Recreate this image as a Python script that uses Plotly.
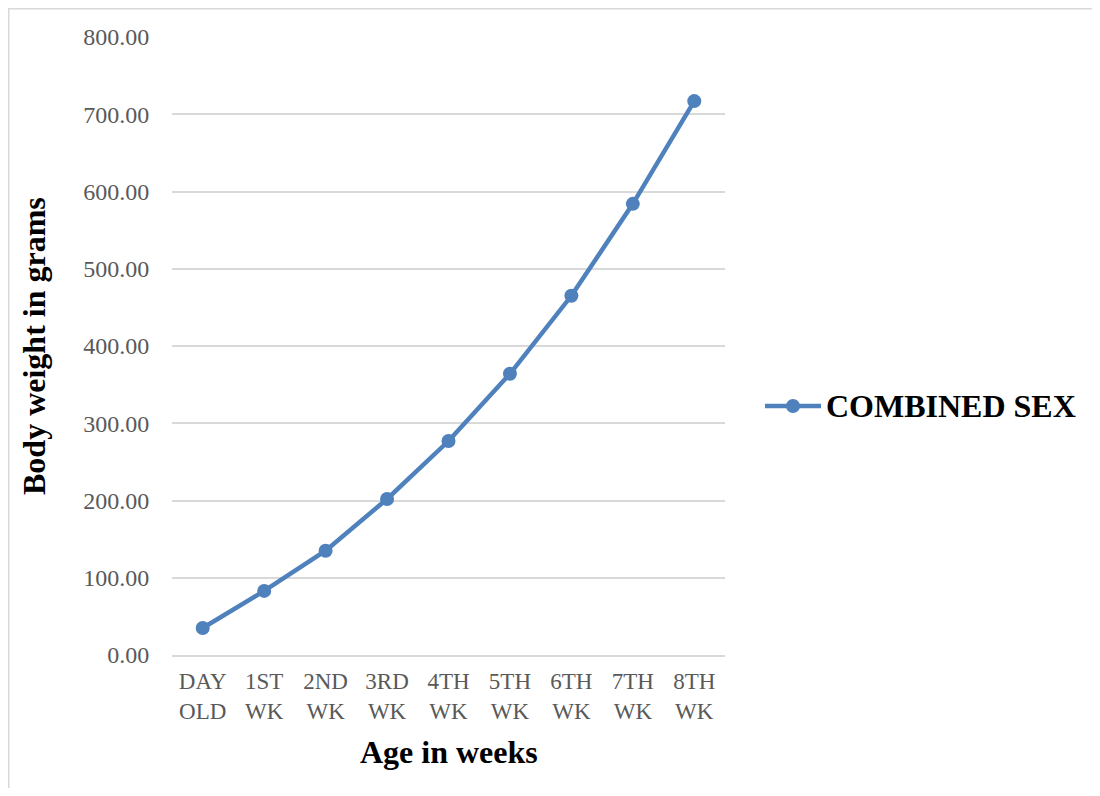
import plotly.graph_objects as go

categories = ["DAY<br>OLD", "1ST<br>WK", "2ND<br>WK", "3RD<br>WK", "4TH<br>WK",
              "5TH<br>WK", "6TH<br>WK", "7TH<br>WK", "8TH<br>WK"]
combined_sex = [35, 83, 135, 202, 277, 364, 465, 584, 717]
y_ticks = [0, 100, 200, 300, 400, 500, 600, 700, 800]
series_name = "COMBINED SEX"

# page offset of 8px (body margin) -> figure coordinates
OFF = 8
L, R, T, B = 172 - OFF, 725 - OFF, 37 - OFF, 655 - OFF
W, H = 1100 - 2 * OFF, 796 - 2 * OFF
pw, ph = R - L, B - T
COLOR = "#4f81bd"

def px(x):
    return (x - OFF - L) / pw

def py(y):
    return (B - (y - OFF)) / ph

fig = go.Figure()
fig.add_trace(go.Scatter(
    x=categories, y=combined_sex, mode="lines+markers", name=series_name,
    line=dict(color=COLOR, width=4.5),
    marker=dict(color=COLOR, size=14),
    showlegend=False,
))

serif = "Liberation Serif, Times New Roman, serif"
fig.update_layout(
    width=W, height=H,
    margin=dict(l=L, r=W - R, t=T, b=H - B),
    paper_bgcolor="white", plot_bgcolor="white",
    font=dict(family=serif, color="#595959", size=24),
    showlegend=False,
    xaxis=dict(type="category", range=[-0.5, 8.5], showgrid=False,
               showline=True, linecolor="#d9d9d9", linewidth=1.5,
               ticks="outside", ticklen=5, tickcolor="rgba(0,0,0,0)",
               tickfont=dict(family=serif, size=23, color="#595959"),
               fixedrange=True),
    yaxis=dict(range=[0, 800], tickvals=y_ticks, tickformat=".2f",
               showgrid=True, gridcolor="#d9d9d9", gridwidth=1.5,
               zeroline=False, showline=False,
               ticks="outside", ticklen=17, tickcolor="rgba(0,0,0,0)",
               tickfont=dict(family=serif, size=24, color="#595959"),
               fixedrange=True),
    annotations=[
        dict(text="<b>Age in weeks</b>", x=px(449), y=py(752), xref="paper", yref="paper",
             showarrow=False, xanchor="center", yanchor="middle",
             font=dict(family=serif, size=32, color="black")),
        dict(text="<b>Body weight in grams</b>", x=px(34), y=py(346), xref="paper", yref="paper",
             showarrow=False, xanchor="center", yanchor="middle", textangle=-90,
             font=dict(family=serif, size=32, color="black")),
        dict(text="<b>" + series_name + "</b>", x=px(824), y=py(406), xref="paper", yref="paper",
             showarrow=False, xanchor="left", yanchor="middle",
             font=dict(family=serif, size=32, color="black")),
    ],
    shapes=[
        # chart frame (left and top edges visible)
        dict(type="line", xref="paper", yref="paper",
             x0=px(OFF + 0.75), x1=px(OFF + 0.75), y0=py(830), y1=py(OFF),
             line=dict(color="#d9d9d9", width=1.5), layer="below"),
        dict(type="line", xref="paper", yref="paper",
             x0=px(OFF), x1=px(1125), y0=py(OFF + 0.75), y1=py(OFF + 0.75),
             line=dict(color="#d9d9d9", width=1.5), layer="below"),
        # legend symbol
        dict(type="line", xref="paper", yref="paper",
             x0=px(765), x1=px(821), y0=py(406), y1=py(406),
             line=dict(color=COLOR, width=4.5)),
        dict(type="circle", xref="paper", yref="paper",
             x0=px(786), x1=px(800), y0=py(413), y1=py(399),
             line=dict(color=COLOR, width=0), fillcolor=COLOR),
    ],
)

fig.write_html("out.html")
